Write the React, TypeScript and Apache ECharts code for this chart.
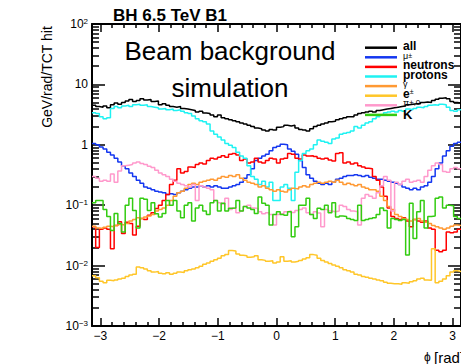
import React, { useEffect, useRef } from "react";
import * as echarts from "echarts";

// ---- binning (phi in rad) ----
const PHI_MIN = -Math.PI;
const PHI_MAX = Math.PI;
const NBINS = 100;

// ---- tick labels ----
const xMajorTicks = [-3, -2, -1, 0, 1, 2, 3];
const xMinorTicks = [
  -2.8, -2.6, -2.4, -2.2, -1.8, -1.6, -1.4, -1.2, -0.8, -0.6, -0.4, -0.2,
  0.2, 0.4, 0.6, 0.8, 1.2, 1.4, 1.6, 1.8, 2.2, 2.4, 2.6, 2.8,
];

// ---- series values (GeV/rad/TCT hit per bin) ----
const allHits = [
  4.5, 4.3, 4.2, 4.4, 4.1, 4.6, 4.9, 4.7, 5.0, 5.3,
  5.6, 5.2, 5.4, 5.8, 5.5, 5.6, 5.2, 5.3, 4.6, 4.8,
  4.5, 4.3, 4.2, 4.3, 4.0, 3.9, 3.8, 3.7, 3.5, 3.6,
  3.35, 3.3, 3.1, 2.9, 3.1, 2.8, 2.7, 2.6, 2.5, 2.4,
  2.3, 2.2, 2.1, 2.0, 1.9, 1.85, 1.75, 1.7, 1.8, 1.75,
  1.95, 2.0, 2.1, 2.05, 2.1, 1.9, 1.8, 1.75, 1.7, 1.85,
  2.0, 2.1, 2.2, 2.3, 2.4, 2.45, 2.6, 2.7, 2.8, 2.9,
  2.9, 3.1, 3.3, 3.4, 3.5, 3.6, 3.5, 3.7, 3.8, 3.9,
  4.0, 4.1, 4.2, 4.3, 4.4, 4.6, 4.7, 4.8, 4.8, 5.0,
  5.1, 5.0, 5.4, 5.7, 5.9, 6.0, 5.8, 5.2, 5.0, 4.9,
];

const muons = [
  1.05, 1.0, 0.92, 0.85, 0.75, 0.68, 0.6, 0.52, 0.45, 0.4,
  0.34, 0.3, 0.26, 0.23, 0.2, 0.19, 0.18, 0.17, 0.165, 0.16,
  0.15, 0.155, 0.15, 0.16, 0.17, 0.18, 0.19, 0.2, 0.2, 0.21,
  0.2, 0.21, 0.2, 0.21, 0.2, 0.19, 0.19, 0.2, 0.21, 0.22,
  0.24, 0.28, 0.32, 0.4, 0.55, 0.6, 0.65, 0.7, 0.8, 0.9,
  0.95, 1.02, 1.0, 0.85, 0.78, 0.7, 0.55, 0.42, 0.32, 0.28,
  0.25, 0.23, 0.22, 0.23, 0.22, 0.24, 0.27, 0.28, 0.3, 0.31,
  0.31, 0.32, 0.31, 0.3, 0.31, 0.29, 0.28, 0.27, 0.27, 0.26,
  0.25, 0.24, 0.23, 0.22, 0.2, 0.19, 0.18, 0.19, 0.18, 0.2,
  0.21, 0.24, 0.3, 0.4, 0.5, 0.65, 0.8, 0.95, 1.05, 1.1,
];

const neutrons = [
  0.044, 0.02, 0.04, 0.042, 0.04, 0.019, 0.046, 0.053, 0.034, 0.052,
  0.05, 0.032, 0.045, 0.06, 0.058, 0.068, 0.075, 0.088, 0.1, 0.12,
  0.15, 0.22, 0.26, 0.4, 0.34, 0.36, 0.43, 0.42, 0.47, 0.5,
  0.48, 0.55, 0.6, 0.58, 0.62, 0.66, 0.62, 0.7, 0.72, 0.68,
  0.55, 0.58, 0.5, 0.52, 0.6, 0.52, 0.5, 0.55, 0.6, 0.58,
  0.5, 0.58, 0.6, 0.72, 0.7, 0.6, 0.58, 0.68, 0.65, 0.66,
  0.64, 0.6, 0.58, 0.6, 0.56, 0.54, 0.72, 0.74, 0.5, 0.52,
  0.48, 0.5, 0.45, 0.43, 0.41, 0.4, 0.3, 0.26, 0.2, 0.14,
  0.09, 0.065, 0.06, 0.058, 0.062, 0.055, 0.044, 0.058, 0.055, 0.052,
  0.055, 0.042, 0.04, 0.018, 0.017, 0.018, 0.036, 0.035, 0.036, 0.04,
];

const protons = [
  3.4, 3.3, 2.9, 2.7, 2.8, 4.0, 4.3, 4.1, 4.4, 4.5,
  4.3, 4.6, 4.7, 4.5, 4.6, 4.3, 4.2, 4.1, 3.9, 4.0,
  3.8, 3.9, 3.7, 3.8, 3.6, 3.4, 3.3, 3.0, 2.7, 2.5,
  2.4, 2.2, 1.7, 1.5, 1.35, 1.2, 1.05, 0.98, 0.9, 0.75,
  0.65, 0.6, 0.45, 0.3, 0.27, 0.22, 0.25, 0.2, 0.24, 0.12,
  0.12, 0.2, 0.22, 0.19, 0.12, 0.35, 0.55, 0.72, 0.8, 0.85,
  1.0, 1.2, 1.15, 1.1, 1.05, 1.25, 1.3, 1.5, 1.55, 1.6,
  1.7, 2.0, 1.9, 2.1, 2.3, 2.4, 2.7, 2.9, 3.1, 3.4,
  3.5, 3.6, 3.5, 3.7, 3.6, 3.9, 3.8, 4.0, 4.2, 4.1,
  4.3, 4.5, 4.6, 4.5, 4.7, 4.6, 4.2, 3.7, 3.6, 3.8,
];

const photons = [
  0.045, 0.042, 0.041, 0.043, 0.045, 0.044, 0.046, 0.048, 0.047, 0.05,
  0.055, 0.058, 0.062, 0.06, 0.064, 0.066, 0.07, 0.08, 0.085, 0.09,
  0.1, 0.12, 0.14, 0.16, 0.17, 0.19, 0.22, 0.23, 0.22, 0.24,
  0.25, 0.26, 0.27, 0.26, 0.28, 0.3, 0.29, 0.31, 0.3, 0.32,
  0.28, 0.26, 0.24, 0.23, 0.22, 0.2, 0.21, 0.19, 0.18, 0.17,
  0.18, 0.17, 0.165, 0.18, 0.19, 0.185, 0.2, 0.21, 0.2, 0.22,
  0.23, 0.24, 0.23, 0.24, 0.25, 0.24, 0.26, 0.24, 0.22, 0.23,
  0.22, 0.21, 0.22, 0.2, 0.19, 0.18, 0.18, 0.17, 0.14, 0.12,
  0.095, 0.085, 0.07, 0.065, 0.06, 0.058, 0.055, 0.058, 0.06, 0.055,
  0.052, 0.05, 0.046, 0.044, 0.042, 0.04, 0.042, 0.045, 0.047, 0.046,
];

const electrons = [
  0.0068, 0.0063, 0.0055, 0.0052, 0.0057, 0.0056, 0.0058, 0.006, 0.0062, 0.0066,
  0.007, 0.0072, 0.0095, 0.0092, 0.0088, 0.0082, 0.0078, 0.008, 0.0075, 0.0073,
  0.0076, 0.0072, 0.0075, 0.0078, 0.0077, 0.0082, 0.0085, 0.0088, 0.0092, 0.0098,
  0.0105, 0.011, 0.0118, 0.0125, 0.0132, 0.0145, 0.0152, 0.0178, 0.0175, 0.0155,
  0.0148, 0.0145, 0.0138, 0.014, 0.0145, 0.0125, 0.0122, 0.0118, 0.012, 0.011,
  0.0115, 0.014, 0.0118, 0.012, 0.0115, 0.0118, 0.0122, 0.0128, 0.0135, 0.0152,
  0.0148, 0.0132, 0.0122, 0.0115, 0.0108, 0.0102, 0.0098, 0.0092, 0.0085, 0.0082,
  0.0078, 0.0072, 0.007, 0.0066, 0.0064, 0.0062, 0.006, 0.0058, 0.0056, 0.0053,
  0.0051, 0.005, 0.005, 0.0049, 0.0052, 0.0051, 0.0054, 0.0056, 0.006, 0.0062,
  0.0058, 0.0057, 0.019, 0.0052, 0.0055, 0.006, 0.0068, 0.0078, 0.0082, 0.008,
];

const pions = [
  0.3, 0.28, 0.25, 0.26, 0.25, 0.33, 0.24, 0.37, 0.45, 0.46,
  0.47, 0.5, 0.52, 0.49, 0.47, 0.44, 0.42, 0.38, 0.34, 0.32,
  0.3, 0.27, 0.25, 0.23, 0.22, 0.21, 0.2, 0.22, 0.12, 0.21,
  0.2, 0.19, 0.18, 0.12, 0.11, 0.105, 0.13, 0.085, 0.09, 0.075,
  0.08, 0.095, 0.1, 0.09, 0.088, 0.078, 0.072, 0.075, 0.07, 0.047,
  0.07, 0.072, 0.078, 0.08, 0.076, 0.082, 0.085, 0.09, 0.075, 0.07,
  0.078, 0.074, 0.044, 0.085, 0.08, 0.078, 0.08, 0.1, 0.095, 0.085,
  0.08, 0.078, 0.047, 0.13, 0.15, 0.14, 0.13, 0.16, 0.21, 0.3,
  0.26, 0.08, 0.24, 0.22, 0.25, 0.27, 0.24, 0.25, 0.26, 0.24,
  0.3, 0.38, 0.45, 0.5, 0.47, 0.36, 0.35, 0.4, 0.42, 0.4,
];

const kaons = [
  0.11, 0.12, 0.12, 0.085, 0.065, 0.038, 0.073, 0.05, 0.036, 0.1,
  0.13, 0.082, 0.042, 0.13, 0.125, 0.082, 0.11, 0.072, 0.064, 0.073,
  0.12, 0.1, 0.12, 0.08, 0.062, 0.1, 0.11, 0.055, 0.09, 0.1,
  0.08, 0.07, 0.11, 0.12, 0.08, 0.108, 0.08, 0.089, 0.09, 0.12,
  0.08, 0.095, 0.09, 0.085, 0.073, 0.137, 0.108, 0.1, 0.047, 0.07,
  0.078, 0.07, 0.068, 0.078, 0.03, 0.044, 0.1, 0.1, 0.13, 0.07,
  0.06, 0.089, 0.085, 0.1, 0.075, 0.11, 0.064, 0.066, 0.065, 0.06,
  0.058, 0.056, 0.1, 0.056, 0.058, 0.06, 0.062, 0.07, 0.09, 0.082,
  0.042, 0.06, 0.058, 0.056, 0.058, 0.015, 0.108, 0.028, 0.078, 0.12,
  0.042, 0.065, 0.066, 0.13, 0.137, 0.09, 0.1, 0.098, 0.065, 0.06,
];

const seriesDefs = [
  { name: "all", values: allHits, color: "#000000" },
  { name: "mu", values: muons, color: "#1437f0" },
  { name: "neutrons", values: neutrons, color: "#ff0000" },
  { name: "protons", values: protons, color: "#1ff2f2" },
  { name: "gamma", values: photons, color: "#ff9933" },
  { name: "e", values: electrons, color: "#ffc629" },
  { name: "pi", values: pions, color: "#ff99cc" },
  { name: "K", values: kaons, color: "#33cc11" },
];

const FONT = "'Liberation Sans', Arial, Helvetica, sans-serif";

function toSteps(values: number[]): [number, number][] {
  const w = (PHI_MAX - PHI_MIN) / NBINS;
  const pts: [number, number][] = values.map((v, i) => [PHI_MIN + i * w, v]);
  pts.push([PHI_MAX, values[values.length - 1]]);
  return pts;
}

const tickLine = { color: "#000", width: 1.5 };

function logLabel(v: number): string {
  const e = Math.round(Math.log10(v));
  if (e === 0) return "1";
  if (e === 1) return "10";
  return `10{sup|${e < 0 ? "\u2212" : ""}${Math.abs(e)}}`;
}

export default function App() {
  const ref = useRef<HTMLDivElement>(null);

  useEffect(() => {
    if (!ref.current) return;
    const chart = echarts.init(ref.current, null, { renderer: "svg" });

    const xBase = (position: string) => ({
      type: "value",
      min: PHI_MIN,
      max: PHI_MAX,
      position,
      splitLine: { show: false },
      axisLine: { show: false },
      axisLabel: { show: false },
    });

    const yBase = (position: string, showLabels: boolean) => ({
      type: "log",
      logBase: 10,
      min: 0.001,
      max: 100,
      splitNumber: 5,
      position,
      splitLine: { show: false },
      axisLine: { show: true, onZero: false, lineStyle: { color: "#000", width: 2 } },
      axisTick: { show: true, inside: true, length: 13, lineStyle: tickLine },
      minorTick: { show: true, splitNumber: 9, length: 7, lineStyle: tickLine },
      axisLabel: showLabels
        ? {
            show: true,
            formatter: logLabel,
            color: "#000",
            fontFamily: FONT,
            fontSize: 12,
            margin: 4,
            rich: {
              sup: { fontSize: 8, fontFamily: FONT, color: "#000", verticalAlign: "top", padding: [0, 0, 5, 0] },
            },
          }
        : { show: false },
    });

    const option: any = {
      animation: false,
      backgroundColor: "#ffffff",
      grid: { left: 92, top: 24, right: -6, bottom: 38, containLabel: false },
      xAxis: [
        {
          ...xBase("bottom"),
          axisLine: { show: true, onZero: false, lineStyle: { color: "#000", width: 2 } },
          axisTick: { show: true, inside: true, length: 8, customValues: xMajorTicks, lineStyle: tickLine },
          axisLabel: {
            show: true,
            customValues: xMajorTicks,
            formatter: (v: number) => String(Math.round(v)).replace("-", "\u2212"),
            color: "#000",
            fontFamily: FONT,
            fontSize: 12,
            margin: 4,
          },
        },
        {
          ...xBase("bottom"),
          axisTick: { show: true, inside: true, length: 4, customValues: xMinorTicks, lineStyle: tickLine },
        },
        {
          ...xBase("top"),
          axisLine: { show: true, onZero: false, lineStyle: { color: "#000", width: 2 } },
          axisTick: { show: true, inside: true, length: 8, customValues: xMajorTicks, lineStyle: tickLine },
        },
        {
          ...xBase("top"),
          axisTick: { show: true, inside: true, length: 4, customValues: xMinorTicks, lineStyle: tickLine },
        },
      ],
      yAxis: [yBase("left", true), yBase("right", false)],
      series: seriesDefs.map((s, idx) => ({
        name: s.name,
        type: "line",
        step: "end",
        data: toSteps(s.values),
        xAxisIndex: 0,
        yAxisIndex: 0,
        showSymbol: false,
        symbol: "none",
        clip: true,
        silent: true,
        lineStyle: { color: s.color, width: 1.5 },
        itemStyle: { color: s.color },
        z: 2 + idx * 0.01,
      })),
      graphic: [
        {
          type: "text",
          left: 113,
          top: 7,
          style: { text: "BH 6.5 TeV B1", fontFamily: FONT, fontSize: 17, fontWeight: "bold", fill: "#000" },
        },
        {
          type: "text",
          x: 230,
          y: 51,
          style: { text: "Beam background", fontFamily: FONT, fontSize: 26, fill: "#000", align: "center", verticalAlign: "middle" },
        },
        {
          type: "text",
          x: 230,
          y: 88,
          style: { text: "simulation", fontFamily: FONT, fontSize: 26, fill: "#000", align: "center", verticalAlign: "middle" },
        },
        {
          type: "text",
          x: 47,
          y: 77,
          rotation: Math.PI / 2,
          style: { text: "GeV/rad/TCT hit", fontFamily: FONT, fontSize: 14, fill: "#000", align: "center", verticalAlign: "middle" },
        },
        {
          type: "text",
          x: 424,
          y: 357,
          style: {
            text: "{p|\u03d5} {r|[rad]}",
            fontFamily: FONT, fill: "#000", align: "left", verticalAlign: "middle",
            rich: { p: { fontSize: 12, fontFamily: FONT }, r: { fontSize: 15, fontFamily: FONT } },
          },
        },
        // legend
        ...seriesDefs.map((s, i) => ({
          type: "line",
          shape: { x1: 365, y1: 47.7 + i * 9.6, x2: 397, y2: 47.7 + i * 9.6 },
          style: { stroke: s.color, lineWidth: 2.5 },
          z: 100,
        })),
        { type: "text", x: 403, y: 45.5, z: 101, style: { text: "all", fontFamily: FONT, fontSize: 12, fontWeight: "bold", fill: "#000", verticalAlign: "middle" } },
        {
          type: "text", x: 403, y: 56, z: 101,
          style: { text: "{b|\u03bc}{s|\u00b1}", fontFamily: FONT, fill: "#000", verticalAlign: "middle",
            rich: { b: { fontSize: 9, fontFamily: FONT }, s: { fontSize: 7, fontFamily: FONT, verticalAlign: "top" } } },
        },
        { type: "text", x: 403, y: 65, z: 101, style: { text: "neutrons", fontFamily: FONT, fontSize: 12, fontWeight: "bold", fill: "#000", verticalAlign: "middle" } },
        { type: "text", x: 403, y: 74.5, z: 101, style: { text: "protons", fontFamily: FONT, fontSize: 12, fontWeight: "bold", fill: "#000", verticalAlign: "middle" } },
        { type: "text", x: 403, y: 84, z: 101, style: { text: "\u03b3", fontFamily: FONT, fontSize: 9, fill: "#000", verticalAlign: "middle" } },
        {
          type: "text", x: 403, y: 94, z: 101,
          style: { text: "{b|e}{s|\u00b1}", fontFamily: FONT, fill: "#000", verticalAlign: "middle",
            rich: { b: { fontSize: 12, fontWeight: "bold", fontFamily: FONT }, s: { fontSize: 7, fontFamily: FONT, verticalAlign: "top" } } },
        },
        {
          type: "text", x: 403, y: 103, z: 101,
          style: { text: "{b|\u03c0}{s|\u00b1,0}", fontFamily: FONT, fill: "#000", verticalAlign: "middle",
            rich: { b: { fontSize: 9, fontFamily: FONT }, s: { fontSize: 8, fontFamily: FONT, verticalAlign: "top" } } },
        },
        { type: "text", x: 403, y: 114, z: 101, style: { text: "K", fontFamily: FONT, fontSize: 13, fontWeight: "bold", fill: "#000", verticalAlign: "middle" } },
      ],
    };

    chart.setOption(option);
    return () => chart.dispose();
  }, []);

  return (
    <div
      ref={ref}
      style={{ position: "fixed", left: 0, top: 0, width: 461, height: 364, background: "#fff" }}
    />
  );
}
